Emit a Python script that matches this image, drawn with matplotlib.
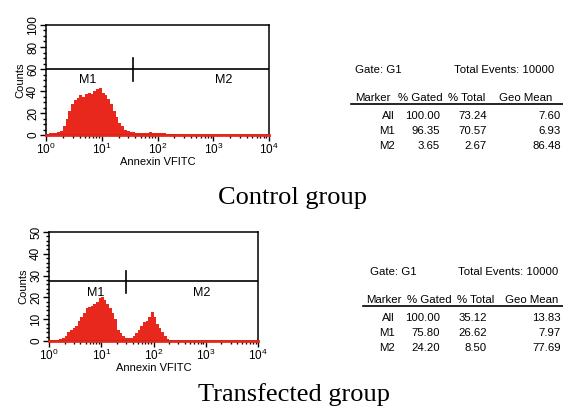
import numpy as np
import matplotlib
matplotlib.use("Agg")
import matplotlib.pyplot as plt
from matplotlib.ticker import LogLocator, MultipleLocator, NullFormatter

plt.rcParams['font.family'] = ['Liberation Sans', 'DejaVu Sans']
plt.rcParams['mathtext.default'] = 'regular'

# histogram channels (log10 of Annexin V FITC), 0.05 decade bins
log_bins = np.round(np.arange(0, 2.45, 0.05), 2)

control_counts = [1, 1.5, 2, 2, 3, 4, 8, 15, 22, 28, 32, 34, 36, 35, 37, 38, 37,
                  40, 42, 43, 38, 36, 33, 28, 22, 16, 11, 8, 5, 4, 3, 2.5, 2, 2,
                  1.5, 2, 2, 2.5, 2, 2, 2, 1.5, 1.5, 1, 1, 0.8, 0.5, 0.3, 0]
transfected_counts = [0.3, 0.3, 0.5, 0.5, 0.8, 1.5, 2.5, 4, 5, 6, 7, 9, 11, 13, 15,
                      15.5, 16, 17, 18, 19.5, 20, 19, 17, 15, 13, 10, 5, 3.5, 2.5,
                      1.5, 1.2, 1.5, 2.5, 3.5, 5, 7, 8.5, 9, 11, 13.5, 11, 8, 6, 4,
                      2.5, 1, 0.3, 0, 0]

# marker gates
control_gate = 60
control_split = 37
transfected_gate = 27.5
transfected_split = 30

# statistics tables
table_header = ['Marker', '% Gated', '% Total', 'Geo Mean']
markers = ['All', 'M1', 'M2']
control_gated = ['100.00', '96.35', '3.65']
control_total = ['73.24', '70.57', '2.67']
control_geo = ['7.60', '6.93', '86.48']
transf_gated = ['100.00', '75.80', '24.20']
transf_total = ['35.12', '26.62', '8.50']
transf_geo = ['13.83', '7.97', '77.69']

RED = '#e8281c'
W, H = 563, 409

fig = plt.figure(figsize=(W / 100, H / 100), dpi=100)


def px(x, y):
    return x / W, 1 - y / H


def histo(rect, counts, ymax, ymajor, yminor, gate, split, m1x, m2x, labely, tick_lo, tick_hi):
    ax = fig.add_axes(rect)
    edges = 10 ** np.append(log_bins, log_bins[-1] + 0.05)
    vals = np.append(counts, counts[-1])
    ax.fill_between(edges, 0, vals, step='post', color=RED, lw=0)
    ax.plot([1, 1e4], [0, 0], color=RED, lw=2, clip_on=False, zorder=3)
    ax.set_xscale('log')
    ax.set_xlim(1, 1e4)
    ax.set_ylim(0, ymax)
    ax.xaxis.set_major_locator(LogLocator(base=10, numticks=5))
    ax.xaxis.set_minor_locator(LogLocator(base=10, subs=np.arange(2, 10), numticks=10))
    ax.xaxis.set_minor_formatter(NullFormatter())
    ax.yaxis.set_major_locator(MultipleLocator(ymajor))
    ax.yaxis.set_minor_locator(MultipleLocator(yminor))
    ax.tick_params(which='both', direction='out', top=False, right=False,
                   labelsize=8.5, width=1, color='black')
    ax.tick_params(which='major', length=4, pad=1)
    ax.tick_params(which='minor', length=2.5)
    for lab in ax.get_yticklabels():
        lab.set_rotation(90)
        lab.set_va('center')
    for s in ax.spines.values():
        s.set_linewidth(1.1)
    ax.plot([1, 1e4], [gate, gate], color='black', lw=1.2)
    ax.plot([split, split], [tick_lo, tick_hi], color='black', lw=1.2)
    ax.text(m1x, labely, 'M1', fontsize=9, ha='center', va='center')
    ax.text(m2x, labely, 'M2', fontsize=9, ha='center', va='center')
    ax.set_xlabel('Annexin VFITC', fontsize=8, labelpad=0)
    ax.set_ylabel('Counts', fontsize=8, labelpad=1)
    return ax


x0, y0 = px(46, 135)
x1, y1 = px(269, 25)
histo([x0, y0, x1 - x0, y1 - y0], control_counts, 100, 20, 5,
      control_gate, control_split, 5.7, 1550, 50, 49, 70)

x0, y0 = px(49, 341)
x1, y1 = px(258, 232)
histo([x0, y0, x1 - x0, y1 - y0], transfected_counts, 50, 10, 2,
      transfected_gate, transfected_split, 7.9, 850, 22, 22, 32)


def stats_table(top, gate_x, events_x, line_x, head_lefts, gated, total, geo):
    fs = 8.2
    fig.text(*px(gate_x, top), 'Gate: G1', fontsize=fs, va='center')
    fig.text(*px(events_x, top), 'Total Events: 10000', fontsize=fs, va='center')
    hy = top + 28
    for l, h in zip(head_lefts, table_header):
        fig.text(*px(l, hy), h, fontsize=fs, ha='left', va='center')
    lx0, ly = px(line_x, hy + 6)
    lx1, _ = px(563, hy + 6)
    fig.add_artist(plt.Line2D([lx0, lx1], [ly, ly], color='black', lw=1.2))
    rights = [395, 440, 487, 561]
    for i, m in enumerate(markers):
        ry = hy + 18 + i * 15
        for r, v in zip(rights, [m, gated[i], total[i], geo[i]]):
            fig.text(*px(r, ry), v, fontsize=fs, ha='right', va='center')


stats_table(70, 355, 454, 351, [355, 398, 448, 499],
            control_gated, control_total, control_geo)
stats_table(272, 370, 458, 363, [366, 407, 457, 505],
            transf_gated, transf_total, transf_geo)

fig.text(*px(292, 198), 'Control group', fontsize=19, ha='center', va='center',
         family='Liberation Serif')
fig.text(*px(294, 395), 'Transfected group', fontsize=19, ha='center', va='center',
         family='Liberation Serif')

fig.savefig('out.png', dpi=100)
